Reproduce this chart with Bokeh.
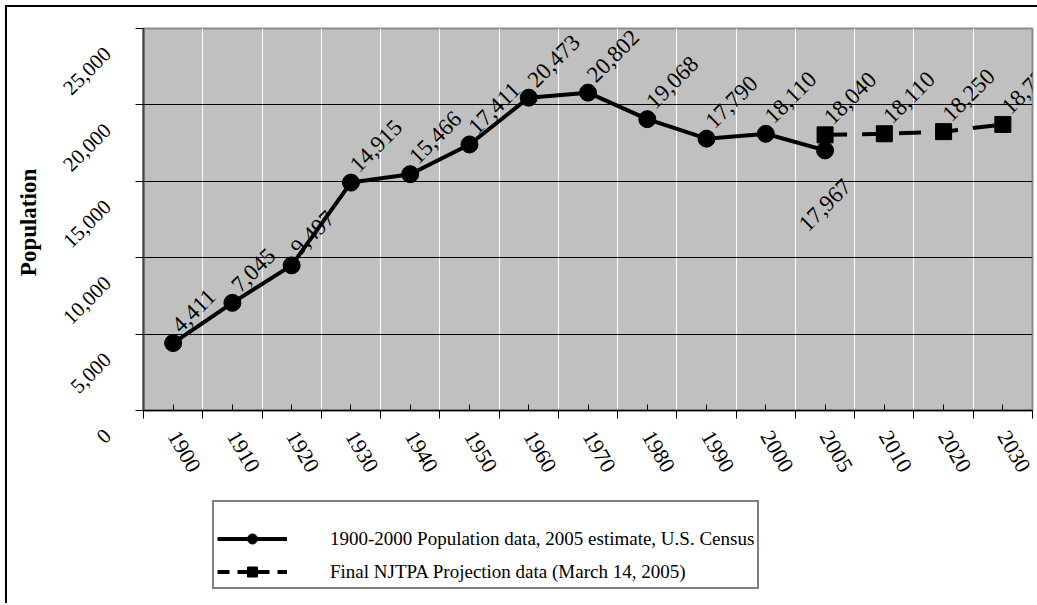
import math
from bokeh.plotting import figure
from bokeh.layouts import column, row
from bokeh.models import (ColumnDataSource, Range1d, FixedTicker, LabelSet, Label,
                          Legend, LegendItem)
from bokeh.core.properties import value
from bokeh.embed import file_html
from bokeh.resources import INLINE

# ---------------- data ----------------
years = ["1900", "1910", "1920", "1930", "1940", "1950", "1960", "1970",
         "1980", "1990", "2000", "2005", "2010", "2020", "2030"]

census_years = ["1900", "1910", "1920", "1930", "1940", "1950", "1960",
                "1970", "1980", "1990", "2000", "2005"]
census_pop = [4411, 7045, 9497, 14915, 15466, 17411, 20473,
              20802, 19068, 17790, 18110, 17020]
census_labels = ["4,411", "7,045", "9,497", "14,915", "15,466", "17,411", "20,473",
                 "20,802", "19,068", "17,790", "18,110", "17,967"]

proj_years = ["2005", "2010", "2020", "2030"]
proj_pop = [18040, 18110, 18250, 18720]
proj_labels = ["18,040", "18,110", "18,250", "18,720"]

y_ticks = [0, 5000, 10000, 15000, 20000, 25000]
y_tick_labels = ["0", "5,000", "10,000", "15,000", "20,000", "25,000"]

legend_labels = ["1900-2000 Population data, 2005 estimate, U.S. Census",
                 "Final NJTPA Projection data (March 14, 2005)"]

# ---------------- geometry / style ----------------
SERIF = "Liberation Serif"
n = len(years)
H1, H2 = 490, 108
WL, WM = 126, 906
FRAME_TOP, FRAME_BOTTOM = 21, 403          # plot area inside the main canvas
FRAME_PX = FRAME_BOTTOM - FRAME_TOP
DROP = 22                                  # tick labels sit this far below their ticks
LBL_TOP = 5                                # top of the label strip frame
LBL_BOTTOM = FRAME_BOTTOM + DROP
y_max = y_ticks[-1]
lbl_range_end = y_max * (LBL_BOTTOM - LBL_TOP) / FRAME_PX


def no_frame_align(fig):
    if "frame_align" in fig.properties():
        fig.frame_align = False


# ---------------- y labels strip (left) ----------------
pyl = figure(width=WL, height=H1, output_backend="svg", toolbar_location=None,
             x_range=Range1d(0, 1), y_range=Range1d(0, lbl_range_end),
             x_axis_location=None,
             min_border_left=WL - 3, min_border_right=0,
             min_border_top=LBL_TOP, min_border_bottom=H1 - LBL_BOTTOM)
no_frame_align(pyl)
pyl.styles = {"margin-left": "5px", "margin-top": "5px",
              "border-left": "2px solid black", "border-top": "2px solid black"}
pyl.title.visible = False
pyl.outline_line_color = None
pyl.xgrid.visible = False
pyl.ygrid.visible = False
pyl.background_fill_color = "white"
pyl.border_fill_color = "white"
yl = pyl.yaxis[0]
yl.ticker = FixedTicker(ticks=y_ticks)
yl.major_label_overrides = {v: t for v, t in zip(y_ticks, y_tick_labels)}
yl.axis_line_color = None
yl.major_tick_line_color = None
yl.minor_tick_line_color = None
yl.major_tick_out = 0
yl.major_tick_in = 0
yl.major_label_standoff = 23
yl.major_label_orientation = math.pi / 4
yl.major_label_text_font = SERIF
yl.major_label_text_font_size = "21px"
yl.major_label_text_color = "black"
yl.axis_label = "Population"
yl.axis_label_text_font = SERIF
yl.axis_label_text_font_style = "bold"
yl.axis_label_text_font_size = "23px"
yl.axis_label_text_color = "black"
yl.axis_label_standoff = 13

# ---------------- main figure ----------------
p = figure(width=WM, height=H1, output_backend="svg", toolbar_location=None,
           x_range=Range1d(0, n), y_range=Range1d(y_ticks[0], y_max),
           min_border_left=12, min_border_right=5, min_border_top=FRAME_TOP,
           min_border_bottom=H1 - FRAME_BOTTOM)
p.styles = {"margin-top": "5px", "border-top": "2px solid black"}
p.title.visible = False
p.background_fill_color = "#C0C0C0"
p.border_fill_color = "white"
p.outline_line_color = "#8C8C8C"
p.outline_line_width = 2

centers = [i + 0.5 for i in range(n)]
bounds = [float(i) for i in range(n + 1)]

p.xgrid.ticker = FixedTicker(ticks=bounds[1:-1])
p.xgrid.grid_line_color = "white"
p.xgrid.grid_line_width = 1
p.ygrid.ticker = FixedTicker(ticks=y_ticks[1:-1])
p.ygrid.grid_line_color = "black"
p.ygrid.grid_line_width = 1

xa = p.xaxis[0]
xa.ticker = FixedTicker(ticks=centers, minor_ticks=bounds)
xa.major_label_overrides = {c: y for c, y in zip(centers, years)}
xa.major_tick_in = 6
xa.major_tick_out = 0
xa.minor_tick_in = 0
xa.minor_tick_out = 8
xa.major_tick_line_color = "black"
xa.minor_tick_line_color = "black"
xa.axis_line_color = "black"
xa.axis_line_width = 1.5
xa.major_label_orientation = -math.pi / 3
xa.major_label_standoff = 14
xa.major_label_text_font = SERIF
xa.major_label_text_font_size = "22px"
xa.major_label_text_color = "black"

ya = p.yaxis[0]
ya.ticker = FixedTicker(ticks=y_ticks)
ya.major_label_overrides = {v: "" for v in y_ticks}
ya.major_label_text_font_size = "0px"
ya.major_label_standoff = 0
ya.major_tick_out = 8
ya.major_tick_in = 0
ya.minor_tick_out = 0
ya.minor_tick_in = 0
ya.major_tick_line_color = "black"
ya.axis_line_color = "#404040"
ya.axis_line_width = 2

cx = [years.index(y) + 0.5 for y in census_years]
px = [years.index(y) + 0.5 for y in proj_years]

r1 = p.line(cx, census_pop, line_color="black", line_width=4)
s1 = p.scatter(cx, census_pop, marker="circle", size=17, color="black")
r2 = p.line(px, proj_pop, line_color="black", line_width=4, line_dash="22 15")
s2 = p.scatter(px, proj_pop, marker="square", size=16, color="black")

LBL_FONT = "23px"
src_c = ColumnDataSource(dict(x=cx[:-1], y=census_pop[:-1], t=census_labels[:-1]))
p.add_layout(LabelSet(x="x", y="y", text="t", source=src_c, angle=math.pi / 4,
                      text_align="left", text_baseline="alphabetic",
                      x_offset=8, y_offset=9, text_font=value(SERIF),
                      text_font_size=LBL_FONT, text_color="black"))
src_p = ColumnDataSource(dict(x=px, y=proj_pop, t=proj_labels))
p.add_layout(LabelSet(x="x", y="y", text="t", source=src_p, angle=math.pi / 4,
                      text_align="left", text_baseline="alphabetic",
                      x_offset=8, y_offset=9, text_font=value(SERIF),
                      text_font_size=LBL_FONT, text_color="black"))
p.add_layout(Label(x=cx[-1], y=census_pop[-1], text=census_labels[-1],
                   angle=math.pi / 4, text_align="right", text_baseline="top",
                   x_offset=17, y_offset=-27, text_font=SERIF,
                   text_font_size=LBL_FONT, text_color="black"))

# ---------------- legend strip (bottom) ----------------
pl = figure(width=WL + WM - 2, height=H2, output_backend="svg", toolbar_location=None,
            x_range=Range1d(0, n), y_range=Range1d(-2, -1),
            x_axis_location=None, y_axis_location=None,
            min_border_left=136, min_border_right=0, min_border_top=0,
            min_border_bottom=0)
pl.styles = {"margin-left": "5px", "border-left": "2px solid black"}
pl.title.visible = False
pl.outline_line_color = None
pl.xgrid.visible = False
pl.ygrid.visible = False
pl.background_fill_color = "white"
pl.border_fill_color = "white"

# legend samples: same series and styles, outside this strip's visible range
lr1 = pl.line(cx, census_pop, line_color="black", line_width=4)
ls1 = pl.scatter(cx, census_pop, marker="circle", size=17, color="black")
lr2 = pl.line(px, proj_pop, line_color="black", line_width=4, line_dash="12 8")
ls2 = pl.scatter(px, proj_pop, marker="square", size=14, color="black")

legend = Legend(items=[LegendItem(label=legend_labels[0], renderers=[lr1, ls1]),
                       LegendItem(label=legend_labels[1], renderers=[lr2, ls2])],
                location=(69, 14))
legend.title = " "
legend.title_text_font_size = "18px"
legend.title_standoff = 0
legend.border_line_color = "black"
legend.border_line_width = 2
legend.background_fill_color = "white"
legend.background_fill_alpha = 1
legend.padding = 3
legend.spacing = 8
legend.margin = 0
legend.glyph_width = 70
legend.glyph_height = 25
legend.label_height = 25
legend.label_standoff = 43
legend.label_text_font = SERIF
legend.label_text_font_size = "19px"
legend.label_text_color = "black"
pl.add_layout(legend, "center")

page = column(row(pyl, p, spacing=0), pl, spacing=0)
open("out.html", "w").write(file_html(page, INLINE))
